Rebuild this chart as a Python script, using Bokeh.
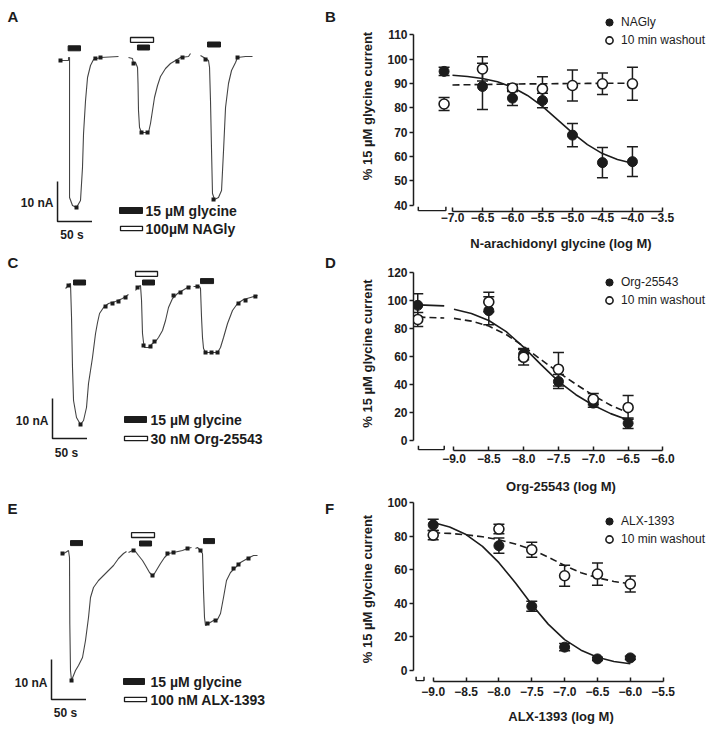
from bokeh.plotting import figure
from bokeh.models import (Range1d, FixedTicker, Whisker, TeeHead, ColumnDataSource,
                          Legend, LegendItem, Label, CustomJSTickFormatter)
from bokeh.layouts import column, row
from bokeh.embed import file_html
from bokeh.resources import INLINE
from bokeh.core.properties import value

FONT = "Liberation Sans"
INK = "#1c1c1c"
TRACE = "#444444"

# ======================= DATA =======================
# ---- Panel A: current traces (time in s, current in nA) ----
a_t1 = [74.0, 87.0, 87.0, 88.5, 88.5, 92.8, 98.6, 104.4, 107.3, 108.8, 111.7, 114.6, 118.9, 123.3, 133.4, 159.5]
a_i1 = [-0.75, -0.75, 0, 0, -35, -37, -37.5, -35.75, -27.5, -19, -10.75, -5, -2, -0.5, 0, 0.25]
a_t2 = [174.0, 179.8, 181.3, 184.2, 187.1, 187.8, 188.5, 190.0, 192.9, 203.0, 205.9, 208.8, 211.7, 216.1, 220.4, 227.7, 234.9, 242.2, 249.4, 261.0, 263.9]
a_i2 = [0, -0.25, -1.5, -1.25, -2.5, -6.5, -13.25, -17.5, -18.75, -18.75, -16.5, -13.25, -10, -7, -4.75, -2.75, -1.5, -0.75, 0, 0.25, 1.0]
a_t3 = [278.4, 285.7, 290.0, 291.5, 292.9, 294.4, 295.8, 298.7, 304.5, 308.9, 311.8, 314.7, 319.0, 323.4, 329.2, 332.1, 343.7, 353.8]
a_i3 = [0.5, -0.25, -0.75, -2.5, -10.75, -23.25, -34, -35.5, -35, -33.25, -23.25, -12.5, -6.5, -3.25, -1.25, 0, 0.25, 0.25]
a_mark_t = [75.4, 98.6, 126.0, 133.4, 181.3, 192.9, 201.6, 245.0, 252.3, 285.7, 297.3, 332.1]
a_mark_i = [-0.75, -37.5, -0.25, 0, -1.5, -18.75, -18.75, -1.0, 0, -0.5, -35.5, 0]
a_gly_start = [86.5, 187.0, 288.6]
a_gly_end = [104.4, 204.5, 307.4]
a_gly_level = [2.3, 2.5, 3.25]
a_drug_start = [176.9]
a_drug_end = [210.3]
a_drug_level = [4.4]
a_labels = ["15 µM glycine", "100µM NAGly"]

# ---- Panel C ----
c_t1 = [82.7, 87.0, 89.9, 91.4, 92.8, 94.3, 98.6, 104.4, 108.8, 113.1, 116.0, 121.8, 126.2, 129.1, 132.0, 137.8, 145.0, 155.2, 165.3, 174.0]
c_i1 = [-0.25, 0.5, 1.0, -7.5, -20, -28.25, -32.5, -34.25, -33.25, -30, -24, -17.5, -11.5, -8.75, -6.5, -5, -4, -3.5, -2.75, -1.75]
c_t2 = [184.2, 187.1, 191.4, 192.9, 194.3, 195.8, 197.2, 203.0, 208.8, 213.2, 217.5, 223.3, 227.7, 232.0, 237.8, 245.1, 252.3, 259.6, 263.9]
c_i2 = [-0.75, 0, 0.5, -3.25, -11.5, -13.75, -15, -15, -14, -13.5, -12.5, -10.75, -8.25, -5, -2.75, -1.5, -0.75, 0, 0.25]
c_t3 = [268.3, 277.0, 278.4, 279.9, 281.3, 282.8, 285.7, 303.1, 307.4, 311.8, 317.6, 324.8, 332.1, 340.8, 350.9, 361.1]
c_i3 = [0.25, 0.25, -0.25, -7.5, -12.5, -15.25, -16.25, -16.25, -15, -12.5, -9, -5.75, -4, -3, -2.5, -2]
c_mark_t = [87.0, 104.4, 140.7, 150.8, 159.5, 169.7, 187.1, 195.8, 205.9, 211.7, 239.3, 249.4, 261.0, 274.0, 285.7, 294.4, 303.1, 333.5, 343.7, 358.0]
c_mark_i = [0.5, -34.25, -4.75, -4.0, -3.5, -2.5, 0, -14.5, -14.75, -13.5, -2.0, -1.25, 0, 0.25, -16.25, -16.25, -16.25, -4.0, -3.25, -2.25]
c_gly_start = [94.3, 194.3, 278.4]
c_gly_end = [111.7, 211.7, 297.3]
c_gly_level = [1.25, 1.25, 1.6]
c_drug_start = [184.2]
c_drug_end = [216.1]
c_drug_level = [3.4]
c_labels = ["15 µM glycine", "30 nM Org-25543"]

# ---- Panel E ----
e_t1 = [76.85, 82.65, 87.0, 88.45, 88.9, 89.9, 91.35, 94.25, 97.15, 101.5, 107.3, 111.65, 116.0, 118.9, 123.25, 130.5, 137.75, 145.0, 152.25, 159.5, 166.75, 171.1]
e_i1 = [-0.75, -0.25, 0.25, -1.5, -18, -29.75, -32.25, -31, -29.75, -28.5, -26.5, -22.25, -16.5, -11.5, -9, -7.25, -6, -4.75, -3.5, -1.75, -0.5, 0]
e_t2 = [174.0, 179.8, 184.15, 188.5, 194.3, 198.65, 204.45, 208.8, 211.7, 216.05, 220.4, 226.2, 232.0, 239.25, 252.3, 259.55, 265.35]
e_i2 = [-0.25, 0.25, 0, -1, -2.25, -3.5, -5.25, -6, -5.5, -4.25, -3, -1.5, -0.5, -0.25, 0.25, 0.75, 1.0]
e_t3 = [271.15, 274.05, 276.95, 281.3, 282.75, 284.2, 285.65, 290.0, 297.25, 303.05, 307.4, 311.75, 316.1, 321.9, 329.15, 336.4, 346.55, 355.25, 361.05]
e_i3 = [0.75, 1.0, 0.5, -0.5, -9.75, -16.5, -18.5, -18, -17.25, -17, -15.5, -11.5, -7.25, -5.25, -4, -2.75, -1.75, -1, -1]
e_mark_t = [78.3, 91.4, 181.3, 208.8, 230.5, 239.3, 259.6, 278.4, 288.6, 300.2, 326.3, 333.5, 348.0]
e_mark_i = [-0.5, -32.25, 0.25, -6.0, -0.5, -0.25, 0.75, 0.25, -18.0, -17.25, -4.25, -3.25, -1.75]
e_gly_start = [89.9, 190.0, 282.75]
e_gly_end = [107.3, 207.4, 298.7]
e_gly_level = [2.1, 2.0, 2.6]
e_drug_start = [178.4]
e_drug_end = [211.7]
e_drug_level = [4.1]
e_labels = ["15 µM glycine", "100 nM ALX-1393"]

SCALE_S = 50      # s
SCALE_NA = 10     # nA

# ---- Panel B: NAGly concentration-response ----
b_x = [-7.14, -6.5, -6.0, -5.5, -5.0, -4.5, -4.0]          # first entry = CTRL
b_nagly = [95.0, 88.8, 84.0, 83.0, 68.8, 57.5, 57.9]
b_nagly_err = [1.7, 9.5, 3.0, 3.0, 4.8, 6.2, 6.1]
b_wash = [81.6, 96.0, 88.2, 87.8, 89.2, 89.9, 89.9]
b_wash_err = [2.7, 5.0, 1.5, 5.0, 6.4, 4.4, 6.8]
b_fit_x = [-7.0, -6.75, -6.5, -6.25, -6.0, -5.75, -5.5, -5.25, -5.0, -4.75, -4.5, -4.25, -4.0]
b_fit_nagly = [93.4, 92.9, 92.1, 90.7, 88.5, 85.1, 80.6, 75.2, 69.7, 64.9, 61.2, 58.8, 57.2]
b_fit_wash = [89.4, 89.5, 89.6, 89.7, 89.8, 89.85, 89.9, 89.95, 90.0, 90.05, 90.1, 90.1, 90.1]
b_xticks = [-7.0, -6.5, -6.0, -5.5, -5.0, -4.5, -4.0, -3.5]
b_xtick_labels = ["−7.0", "−6.5", "−6.0", "−5.5", "−5.0", "−4.5", "−4.0", "−3.5"]
b_yticks = [40, 50, 60, 70, 80, 90, 100, 110]
b_names = ["NAGly", "10 min washout"]

# ---- Panel D: Org-25543 ----
d_x = [-9.52, -8.5, -8.0, -7.5, -7.0, -6.5]                 # first entry = CTRL
d_org = [96.3, 92.5, 61.5, 41.9, 26.5, 12.1]
d_org_err = [8.3, 10.0, 4.0, 5.0, 3.0, 3.8]
d_wash = [86.2, 98.7, 59.2, 50.7, 29.3, 23.4]
d_wash_err = [5.0, 7.0, 5.5, 12.0, 4.0, 8.5]
d_fit_x = [-9.0, -8.75, -8.5, -8.25, -8.0, -7.75, -7.5, -7.25, -7.0, -6.75, -6.5]
d_fit_org = [93.5, 90.5, 85.5, 77.5, 66.5, 54.0, 42.0, 32.5, 25.0, 19.0, 14.5]
d_fit_wash = [87.0, 85.0, 81.5, 75.5, 67.0, 57.5, 48.5, 40.0, 32.0, 25.0, 19.5]
d_ctrl_fit_x = [-9.51, -9.14]
d_ctrl_fit_org = [96.6, 95.9]
d_ctrl_fit_wash = [87.8, 87.3]
d_xticks = [-9.0, -8.5, -8.0, -7.5, -7.0, -6.5, -6.0]
d_xtick_labels = ["−9.0", "−8.5", "−8.0", "−7.5", "−7.0", "−6.5", "−6.0"]
d_yticks = [0, 20, 40, 60, 80, 100, 120]
d_names = ["Org-25543", "10 min washout"]

# ---- Panel F: ALX-1393 ----
f_x = [-9.0, -8.0, -7.5, -7.0, -6.5, -6.0]
f_alx = [86.7, 74.3, 38.2, 13.9, 6.9, 7.5]
f_alx_err = [3.3, 4.5, 3.0, 2.2, 1.0, 1.0]
f_wash = [80.6, 84.2, 71.9, 56.4, 57.4, 51.5]
f_wash_err = [2.7, 2.8, 4.5, 6.2, 6.6, 4.8]
f_fit_x = [-9.0, -8.75, -8.5, -8.25, -8.0, -7.75, -7.5, -7.25, -7.0, -6.75, -6.5, -6.25, -6.0]
f_fit_alx = [88.1, 85.4, 80.9, 73.9, 64.2, 52.2, 39.3, 27.6, 18.4, 12.1, 7.9, 5.4, 4.0]
f_fit_wash = [82.0, 81.6, 80.8, 79.6, 77.8, 75.3, 72.0, 67.5, 62.5, 58.2, 55.2, 53.0, 51.6]
f_xticks = [-9.0, -8.5, -8.0, -7.5, -7.0, -6.5, -6.0, -5.5]
f_xtick_labels = ["−9.0", "−8.5", "−8.0", "−7.5", "−7.0", "−6.5", "−6.0", "−5.5"]
f_yticks = [0, 20, 40, 60, 80, 100]
f_names = ["ALX-1393", "10 min washout"]

Y_LABEL = "% 15 µM glycine current"

# ======================= LAYOUT =======================
LEFT_W = 357
RIGHT_W = 351
S_PER_PX = 1.45
NA_PER_PX = 0.25
T_OFFSET = -11.6     # time at the left edge of a trace panel


def trace_panel(h, y_hi, sweeps, marks, gly, drug, scale, nA_xy, s_xy, leg, labels, letters):
    p = figure(width=LEFT_W, height=h,
               x_range=Range1d(T_OFFSET, T_OFFSET + LEFT_W * S_PER_PX),
               y_range=Range1d(y_hi - h * NA_PER_PX, y_hi), output_backend="svg",
               toolbar_location=None, min_border=0, x_axis_location=None,
               y_axis_location=None, outline_line_color=None)
    p.grid.visible = False
    for t, i in sweeps:
        p.line(t, i, line_color=TRACE, line_width=1.1)
    p.scatter(marks[0], marks[1], marker="square", size=4, fill_color=INK, line_color=None)
    p.hbar(y=gly[2], left=gly[0], right=gly[1], height=1.25, fill_color=INK, line_color=INK)
    p.hbar(y=drug[2], left=drug[0], right=drug[1], height=1.2, fill_color="white",
           line_color=INK, line_width=1.3)
    t0, i0 = scale
    p.line([t0, t0, t0 + SCALE_S], [i0 + SCALE_NA, i0, i0], line_color=INK, line_width=1.5)
    common = dict(text_font=value(FONT), text_font_style="bold", text_color=INK,
                  text_baseline="middle")
    p.text(x=[nA_xy[0]], y=[nA_xy[1]], text=["%d nA" % SCALE_NA], text_align="right",
           text_font_size="12px", **common)
    p.text(x=[s_xy[0]], y=[s_xy[1]], text=["%d s" % SCALE_S], text_align="center",
           text_font_size="12px", **common)
    (b_l, b_r, b_y), (w_l, w_r, w_y), tx = leg
    p.hbar(y=[b_y], left=[b_l], right=[b_r], height=1.5, fill_color=INK, line_color=INK)
    p.hbar(y=[w_y], left=[w_l], right=[w_r], height=1.1, fill_color="white",
           line_color=INK, line_width=1.3)
    p.text(x=[tx, tx], y=[b_y, w_y], text=labels, text_align="left",
           text_font_size="14px", **common)
    p.text(x=[letters[0][0], letters[1][0]], y=[letters[0][1], letters[1][1]],
           text=[letters[0][2], letters[1][2]], text_align="left",
           text_font_size="15px", **common)
    return p


def tick_fmt(ticks, labels):
    return CustomJSTickFormatter(args=dict(tk=ticks, lb=labels), code="""
        for (let i = 0; i < tk.length; i++) { if (Math.abs(tk[i] - tick) < 1e-6) return lb[i]; }
        return "";
    """)


def dose_panel(h, xr, yr, bottom, yticks, xticks, xlabels, xlabel,
               xs, yf, ef, yo, eo, fit_x, fit_f, fit_o, names, leg_xy,
               bracket, ctrl_label_x, tick_standoff, xlab_standoff, ctrl_fit=None):
    p = figure(width=RIGHT_W, height=h, x_range=Range1d(*xr), y_range=Range1d(*yr),
               output_backend="svg", toolbar_location=None, min_border_left=52,
               min_border_right=0, min_border_top=0, min_border_bottom=bottom,
               outline_line_color=None)
    p.grid.visible = False
    frame_h = h - bottom
    ypx = (yr[1] - yr[0]) / frame_h

    for ax in (p.xaxis[0], p.yaxis[0]):
        ax.axis_line_width = 1.5
        ax.axis_line_color = INK
        ax.major_tick_line_width = 1.5
        ax.major_tick_line_color = INK
        ax.minor_tick_line_color = None
        ax.major_label_text_font = FONT
        ax.major_label_text_font_style = "bold"
        ax.major_label_text_font_size = "12px"
        ax.major_label_text_color = INK
        ax.axis_label_text_font = FONT
        ax.axis_label_text_font_style = "bold"
        ax.axis_label_text_font_size = "13px"
        ax.axis_label_text_color = INK
    ya = p.yaxis[0]
    ya.ticker = FixedTicker(ticks=yticks)
    ya.bounds = (yticks[0], yticks[-1])
    ya.major_tick_out = 4
    ya.major_tick_in = 0
    ya.major_label_standoff = 2
    ya.axis_label = Y_LABEL
    ya.axis_label_standoff = 9
    xa = p.xaxis[0]
    xa.ticker = FixedTicker(ticks=xticks)
    xa.formatter = tick_fmt(xticks, xlabels)
    xa.bounds = (xticks[0], xticks[-1])
    xa.major_tick_out = 0
    xa.major_tick_in = 4
    xa.major_label_standoff = tick_standoff
    xa.axis_label = xlabel
    xa.axis_label_standoff = xlab_standoff

    # broken-axis bracket for the control segment
    yb = yr[0] + 0.75 * ypx
    p.segment(x0=[bracket[0]], y0=[yb], x1=[bracket[1]], y1=[yb], line_color=INK, line_width=1.5)
    p.segment(x0=list(bracket), y0=[yb, yb], x1=list(bracket), y1=[yb + 4 * ypx] * 2,
              line_color=INK, line_width=1.5)
    if ctrl_label_x is not None:
        p.add_layout(Label(x=ctrl_label_x, y=yr[0], text="CTRL", text_font=FONT,
                           text_font_style="bold", text_font_size="8.5px", text_color=INK,
                           text_align="center", text_baseline="middle",
                           y_offset=-(tick_standoff + 7)))

    for yy, ee in ((yf, ef), (yo, eo)):
        src = ColumnDataSource(dict(x=xs, up=[a + b for a, b in zip(yy, ee)],
                                    lo=[a - b for a, b in zip(yy, ee)]))
        w = Whisker(source=src, base="x", upper="up", lower="lo", dimension="height",
                    line_color=INK, line_width=1.5, level="underlay",
                    upper_head=TeeHead(size=11, line_color=INK, line_width=1.5),
                    lower_head=TeeHead(size=11, line_color=INK, line_width=1.5))
        p.add_layout(w)

    p.line(fit_x, fit_f, line_color=INK, line_width=1.6)
    p.line(fit_x, fit_o, line_color=INK, line_width=1.6, line_dash="7 4")
    if ctrl_fit is not None:
        cx, cf, co = ctrl_fit
        p.line(cx, cf, line_color=INK, line_width=1.6)
        p.line(cx, co, line_color=INK, line_width=1.6, line_dash="7 4")

    rf = p.scatter(xs, yf, size=10, marker="circle", fill_color=INK, line_color=INK, line_width=1)
    ro = p.scatter(xs, yo, size=10, marker="circle", fill_color="white", line_color=INK,
                   line_width=1.6)

    leg = Legend(items=[LegendItem(label=value(names[0]), renderers=[rf]),
                        LegendItem(label=value(names[1]), renderers=[ro])],
                 location=leg_xy, padding=0, margin=0, spacing=0, glyph_width=20,
                 glyph_height=18, label_height=18, label_standoff=2,
                 label_text_font=FONT, label_text_font_size="12px", label_text_color=INK,
                 border_line_color=None, background_fill_alpha=0)
    p.add_layout(leg)
    return p


pa = trace_panel(252, 14.25, [(a_t1, a_i1), (a_t2, a_i2), (a_t3, a_i3)], (a_mark_t, a_mark_i),
                 (a_gly_start, a_gly_end, a_gly_level), (a_drug_start, a_drug_end, a_drug_level),
                 (71.1, -41.0), (65.3, -36.3), (92.0, -44.25),
                 ((161.0, 194.3, -38.25), (162.4, 194.3, -42.75), 198.7), a_labels,
                 [(-1.45, 10.25, "A"), (459.0, 10.25, "B")])

pc = trace_panel(245, 8.75, [(c_t1, c_i1), (c_t2, c_i2), (c_t3, c_i3)], (c_mark_t, c_mark_i),
                 (c_gly_start, c_gly_end, c_gly_level), (c_drug_start, c_drug_end, c_drug_level),
                 (63.8, -37.75), (58.0, -33.25), (84.1, -41.25),
                 ((168.2, 200.1, -33.0), (168.2, 201.6, -37.75), 205.9), c_labels,
                 [(-1.45, 6.25, "C"), (459.0, 6.25, "D")])

pe = trace_panel(244, 13.5, [(e_t1, e_i1), (e_t2, e_i2), (e_t3, e_i3)], (e_mark_t, e_mark_i),
                 (e_gly_start, e_gly_end, e_gly_level), (e_drug_start, e_drug_end, e_drug_level),
                 (62.35, -37.0), (56.5, -32.75), (82.65, -40.25),
                 ((166.75, 197.2, -32.5), (168.2, 200.1, -37.0), 205.9), e_labels,
                 [(-1.45, 10.75, "E"), (459.0, 10.75, "F")])

pb = dose_panel(256, (-7.65, -2.732), (37.41, 124.13), 45, b_yticks, b_xticks, b_xtick_labels,
                "N-arachidonyl glycine (log M)", b_x, b_nagly, b_nagly_err, b_wash, b_wash_err,
                b_fit_x, b_fit_nagly, b_fit_wash, b_names, (186, 162),
                (-7.57, -7.11), -7.55, 1, 11)

pd_ = dose_panel(240, (-9.581, -5.346), (-7.32, 131.15), 45, d_yticks, d_xticks, d_xtick_labels,
                 "Org-25543 (log M)", d_x, d_org, d_org_err, d_wash, d_wash_err,
                 d_fit_x, d_fit_org, d_fit_wash, d_names, (186, 141),
                 (-9.51, -9.14), -9.51, 3, 13,
                 ctrl_fit=(d_ctrl_fit_x, d_ctrl_fit_org, d_ctrl_fit_wash))

pf = dose_panel(245, (-9.30, -4.81), (-6.55, 103.57), 60, f_yticks, f_xticks, f_xtick_labels,
                "ALX-1393 (log M)", f_x, f_alx, f_alx_err, f_wash, f_wash_err,
                f_fit_x, f_fit_alx, f_fit_wash, f_names, (186, 133),
                (-9.26, -9.14), None, 5, 10)

layout = row(column(pa, pc, pe), column(pb, pd_, pf))
open("out.html", "w").write(file_html(layout, INLINE))
